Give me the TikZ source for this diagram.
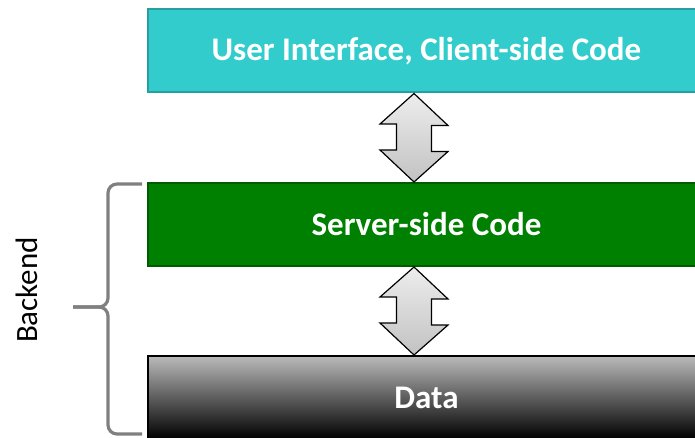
\documentclass[tikz,border=0pt]{standalone}
\usepackage{fontspec}
\setmainfont{Carlito}
\usetikzlibrary{calc}

\definecolor{tuerkis}{RGB}{51,204,204}
\definecolor{tuerkisrand}{RGB}{40,158,158}
\definecolor{gruen}{RGB}{0,128,0}
\definecolor{gruenrand}{RGB}{0,92,0}
\definecolor{klammergrau}{RGB}{128,128,128}

\tikzset{
	schicht/.style={minimum width=557pt,minimum height=83pt,line width=2pt,
		text=white,font=\fontsize{33}{39}\selectfont\bfseries},
	pfeilstil/.style={draw=black,line width=1.2pt,top color=black!7,bottom color=black!24},
	klammer/.style={draw=klammergrau,line width=3.2pt,rounded corners=9pt}
}

% Doppelpfeil zwischen zwei Schichten
\def\pfeil#1#2{
	\draw[pfeilstil] ($(#1.south)+(-12.5,0)$) -- ++(34,32) -- ++(-16.5,0)
		-- ++(0,26) -- ++(16.5,0) -- ($(#2.north)+(-12.5,0)$)
		-- ++(-34,-32) -- ++(16.5,0) -- ++(0,-26) -- ++(-16.5,0) -- cycle;
}

\begin{document}
\begin{tikzpicture}[x=1pt,y=-1pt]

\useasboundingbox (0,0) rectangle (695,438);
\clip (0,0) rectangle (695,438);

\node[schicht,fill=tuerkis,draw=tuerkisrand] (ui) at (426.5,51) {User Interface, Client-side Code};
\node[schicht,fill=gruen,draw=gruenrand] (server) at (426.5,224.5) {Server-side Code};
\node[schicht,draw=black,top color=black!27,bottom color=black] (data) at (426.5,397.5) {Data};

\foreach \a/\b in {ui/server,server/data}{
	\pfeil{\a}{\b}
}

% Klammer fuer das Backend
\draw[klammer] (142,184) -- (108,184) -- (108,307) -- (73,307);
\draw[klammer] (73,307) -- (108,307) -- (108,434) -- (142,434);
\node[rotate=90,font=\fontsize{31}{37}\selectfont] (backend) at (27,290) {Backend};

\end{tikzpicture}
\end{document}
